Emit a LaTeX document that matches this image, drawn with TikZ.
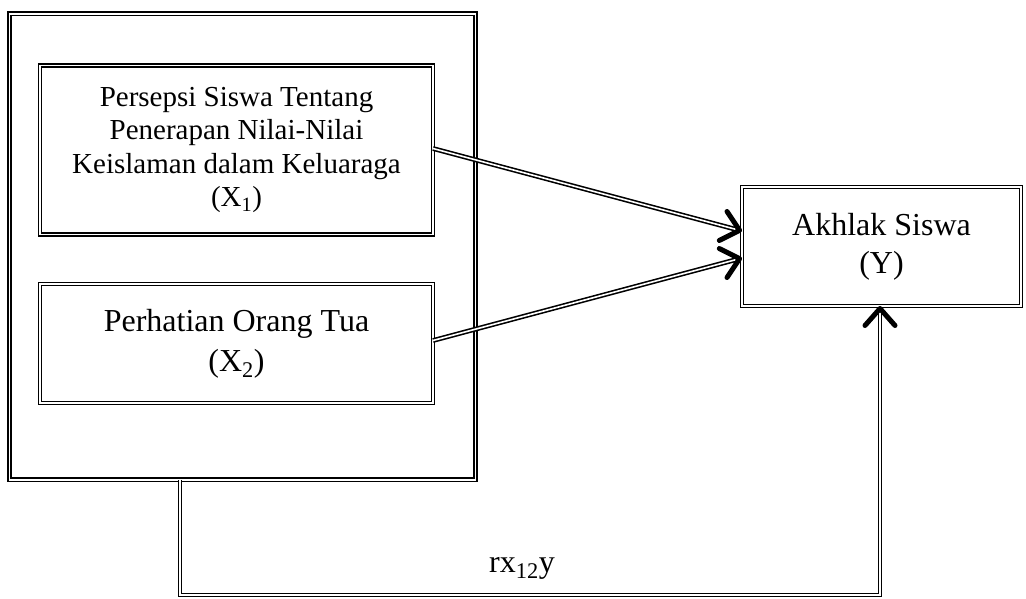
\documentclass[tikz,border=0pt]{standalone}
\usepackage{fontspec}
\setmainfont{Liberation Serif}
\usetikzlibrary{arrows.meta,positioning}
\begin{document}
\begin{tikzpicture}[x=1pt,y=-1pt,
	dbl/.style={draw, line width=1.6pt, double, double distance=1.6pt},
	box/.style={dbl, rectangle, align=center, inner sep=0pt, outer sep=0pt},
	tip/.style={-{Straight Barb[length=17pt,width=30pt,line width=5pt,round]}}]
	\useasboundingbox (0,0) rectangle (1026,598);
	\node[box, minimum width=466pt, minimum height=466pt] (outer) at (242.5,246.75) {};
	\node[box, minimum width=393pt, minimum height=169pt, font=\fontsize{29}{33.5}\selectfont] (X1) at (236.5,150) {Persepsi Siswa Tentang\\Penerapan Nilai-Nilai\\Keislaman dalam Keluaraga\\(X\textsubscript{1})};
	\node[box, minimum width=393pt, minimum height=119pt, font=\fontsize{32}{40}\selectfont] (X2) at (236.5,343.5) {Perhatian Orang Tua\\(X\textsubscript{2})};
	\node[box, minimum width=279pt, minimum height=119pt, font=\fontsize{32}{38}\selectfont] (Y) at (881.5,246.5) {Akhlak Siswa\\(Y)};
	\coordinate (yin1) at ([yshift=15.5pt]Y.west);
	\coordinate (yin2) at ([yshift=-11.5pt]Y.west);
	\coordinate (bl) at (180,595);
	\coordinate (br) at (880,595);
	\draw[dbl, tip] ([yshift=1.5pt]X1.east) -- (yin1);
	\draw[dbl, tip] ([yshift=3pt]X2.east) -- (yin2);
	\draw[dbl, tip] (outer.south -| bl) -- (bl) -- (br) -- (br |- Y.south);
	\node[font=\fontsize{32}{38}\selectfont] (rxy) at (522,568) {rx\textsubscript{12}y};
\end{tikzpicture}
\end{document}
